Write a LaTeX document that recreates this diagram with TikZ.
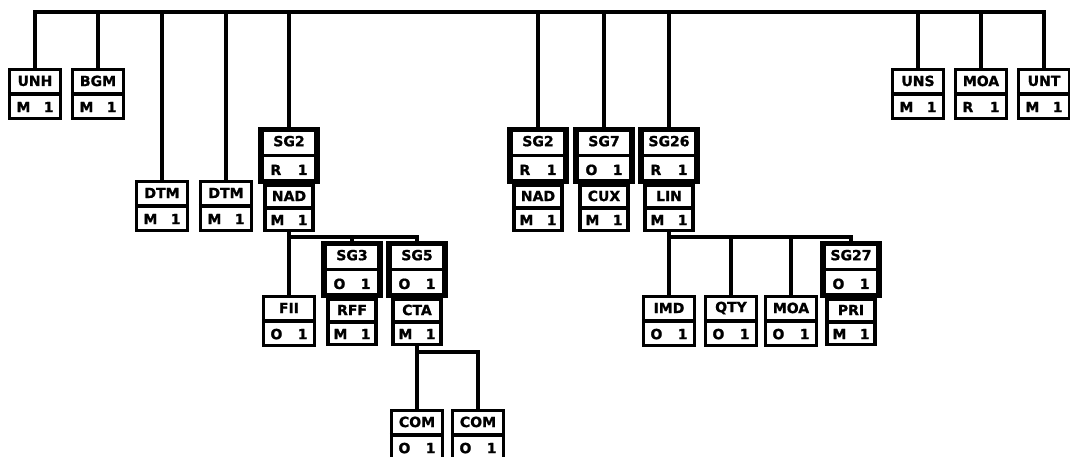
\documentclass[tikz,border=0pt]{standalone}
\usepackage{fontspec}
\setmainfont{DejaVu Sans}
\newfontfamily\boxfont{DejaVu Sans}[BoldFeatures={FakeBold=1.2}]
\usetikzlibrary{calc}
\tikzset{
  conn/.style={line width=3.2pt},
  sbox/.style={draw, line width=3.2pt, fill=white, minimum width=51pt, minimum height=49pt, inner sep=0pt},
  tbox/.style={draw, line width=3.2pt, fill=white, minimum width=48pt, minimum height=45pt, inner sep=0pt},
  gbox/.style={draw, line width=5.5pt, fill=white, minimum width=56pt, minimum height=52pt, inner sep=0pt},
  sepline/.style={line width=3.2pt},
  lbl/.style={font=\boxfont\bfseries\fontsize{14}{14}\selectfont, inner sep=0pt},
}
\newcommand\drawbox[6]{% style, name, x, ycenter, label, status letter
  \node[#1] (#2) at (#3,#4) {};
  \draw[sepline] (#2.west) -- (#2.east);
  \node[lbl] (#2-l) at ($(#2.center)!0.5!(#2.north)$) {#5};
  \node[lbl] (#2-s) at ($(#2.center)!0.5!(#2.south)$) {\makebox[37pt]{#6\hfill 1}};
}
\begin{document}
\begin{tikzpicture}[x=1pt,y=-1pt]
\clip (0,0) rectangle (1070,456);
\fill[white] (0,0) rectangle (1070,456);
\coordinate (top) at (0,12);
\coordinate (brL) at (0,237);
\coordinate (brR) at (0,237);
\coordinate (brC) at (0,352);
% level 1
\drawbox{sbox}{unh}{35}{94}{UNH}{M}
\drawbox{sbox}{bgm}{98}{94}{BGM}{M}
\drawbox{sbox}{dtma}{162}{206}{DTM}{M}
\drawbox{sbox}{dtmb}{226}{206}{DTM}{M}
\drawbox{gbox}{sgtwoa}{289}{155.5}{SG2}{R}
\drawbox{tbox}{nada}{289}{208}{NAD}{M}
\drawbox{gbox}{sgtwob}{538}{155.5}{SG2}{R}
\drawbox{tbox}{nadb}{538}{208}{NAD}{M}
\drawbox{gbox}{sgseven}{604}{155.5}{SG7}{O}
\drawbox{tbox}{cux}{604}{208}{CUX}{M}
\drawbox{gbox}{sgtwentysix}{669}{155.5}{SG26}{R}
\drawbox{tbox}{lin}{669}{208}{LIN}{M}
\drawbox{sbox}{uns}{918}{94}{UNS}{M}
\drawbox{sbox}{moaa}{981}{94}{MOA}{R}
\drawbox{sbox}{unt}{1044}{94}{UNT}{M}
% level 2 left
\drawbox{sbox}{fii}{289}{321}{FII}{O}
\drawbox{gbox}{sgthree}{352}{269.5}{SG3}{O}
\drawbox{tbox}{rff}{352}{322}{RFF}{M}
\drawbox{gbox}{sgfive}{417}{269.5}{SG5}{O}
\drawbox{tbox}{cta}{417}{322}{CTA}{M}
% level 3
\drawbox{sbox}{coma}{417}{435}{COM}{O}
\drawbox{sbox}{comb}{478}{435}{COM}{O}
% level 2 right
\drawbox{sbox}{imd}{669}{321}{IMD}{O}
\drawbox{sbox}{qty}{731}{321}{QTY}{O}
\drawbox{sbox}{moab}{791}{321}{MOA}{O}
\drawbox{gbox}{sgtwentyseven}{851}{269.5}{SG27}{O}
\drawbox{tbox}{pri}{851}{322}{PRI}{M}
% connectors top
\draw[conn] (unh.north) -- (unh.north |- top) -- (unt.north |- top) -- (unt.north);
\foreach \n in {bgm,dtma,dtmb,sgtwoa,sgtwob,sgseven,sgtwentysix,uns,moaa}
  \draw[conn] (\n.north) -- (\n.north |- top);
% left branch
\draw[conn] (nada.south) -- (fii.north);
\draw[conn] (nada.south |- brL) -| (sgfive.north);
\draw[conn] (sgthree.north |- brL) -- (sgthree.north);
% CTA branch
\draw[conn] (cta.south) -- (coma.north);
\draw[conn] (cta.south |- brC) -| (comb.north);
% right branch
\draw[conn] (lin.south) -- (imd.north);
\draw[conn] (lin.south |- brR) -| (sgtwentyseven.north);
\draw[conn] (qty.north |- brR) -- (qty.north);
\draw[conn] (moab.north |- brR) -- (moab.north);
\end{tikzpicture}
\end{document}
